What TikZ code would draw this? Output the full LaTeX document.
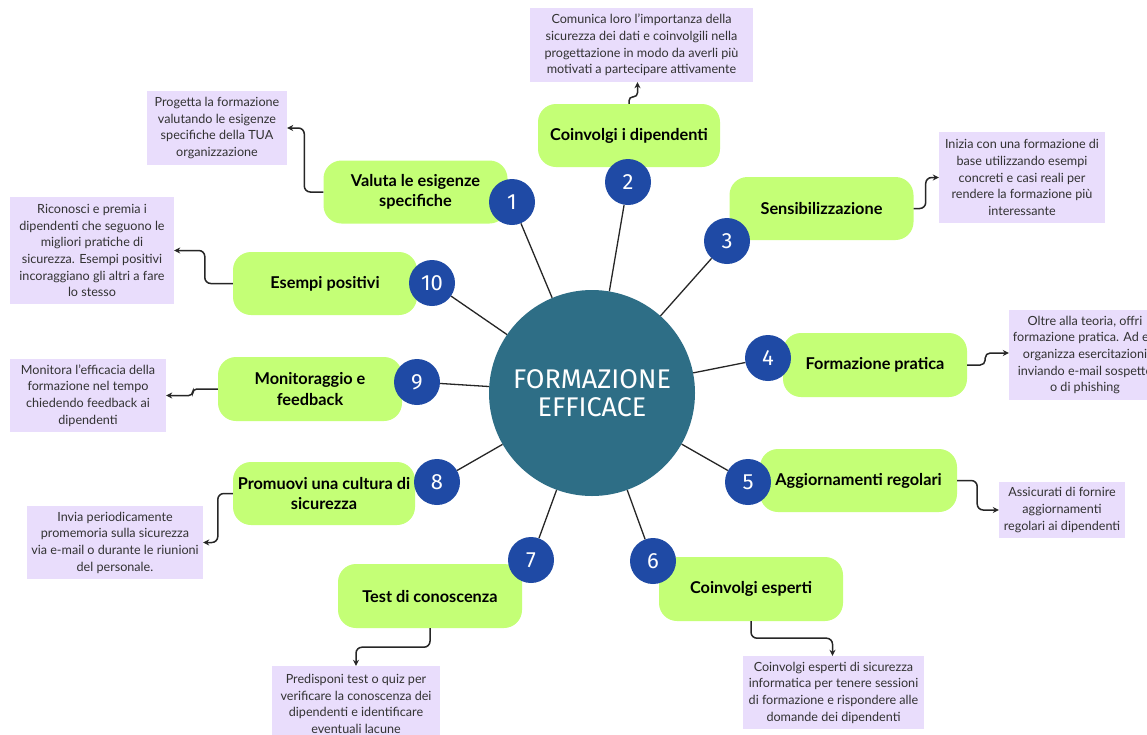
\documentclass[tikz,border=0pt]{standalone}
\usepackage{fontspec}
\setmainfont{Lato}
\newfontfamily\titlefont{Fira Sans}
\usetikzlibrary{arrows.meta,calc}
\definecolor{boxgreen}{RGB}{196,255,118}
\definecolor{notepurple}{RGB}{233,221,252}
\definecolor{numblue}{RGB}{31,74,165}
\definecolor{hubteal}{RGB}{46,110,134}
\definecolor{notetext}{RGB}{50,50,50}
\begin{document}
\begin{tikzpicture}[x=1pt,y=-1pt,
 gbox/.style={fill=boxgreen, rounded corners=18pt, minimum width=184pt, minimum height=63pt, inner sep=2pt, font=\fontsize{16.3}{20.5}\selectfont\bfseries, align=center},
 note/.style={fill=notepurple, inner sep=0pt, font=\fontsize{12.6}{16.7}\selectfont, text=notetext, align=center},
 num/.style={circle, fill=numblue, minimum size=46pt, inner sep=0pt, text=white, font=\titlefont\fontsize{22}{22}\selectfont},
 spoke/.style={draw=black!85, line width=1.3pt},
 conn/.style={draw=black!85, line width=1.5pt, rounded corners=6pt, -{Stealth[length=6pt,width=6pt]}},
]
\clip (0,0) rectangle (1147,734);
\fill[white] (0,0) rectangle (1147,734);

% hub
\node[circle, fill=hubteal, minimum size=206pt, inner sep=0pt, text=white, font=\titlefont\fontsize{27}{28}\selectfont, align=center] (hub) at (592,393) {FORMAZIONE\\EFFICACE};

% green boxes
\node[gbox] (b1) at (415.5,192) {Valuta le esigenze\\specifiche};
\node[gbox, minimum width=182pt] (b2) at (629,135.5) {Coinvolgi i dipendenti};
\node[gbox] (b3) at (821.5,208.5) {Sensibilizzazione};
\node[gbox, minimum height=64pt] (b4) at (875,365) {Formazione pratica};
\node[gbox, minimum width=197pt] (b5) at (858.5,480.5) {Aggiornamenti regolari};
\node[gbox, minimum height=64pt] (b6) at (751,589) {Coinvolgi esperti};
\node[gbox, minimum height=64pt] (b7) at (430,596) {Test di conoscenza};
\node[gbox, minimum width=182pt] (b8) at (324,493.5) {Promuovi una cultura di\\sicurezza};
\node[gbox, minimum height=64pt] (b9) at (310,389) {Monitoraggio e\\feedback};
\node[gbox] (b10) at (325,283.5) {Esempi positivi};

% number circles
\node[num] (n1) at (512,202) {1};
\node[num] (n2) at (628,182) {2};
\node[num] (n3) at (727,241) {3};
\node[num] (n4) at (768,358) {4};
\node[num] (n5) at (748,482) {5};
\node[num] (n6) at (653,561) {6};
\node[num] (n7) at (531,560) {7};
\node[num] (n8) at (437,482) {8};
\node[num] (n9) at (417,382) {9};
\node[num] (n10) at (432,283) {10};

% spokes
\foreach \i in {1,...,10} { \draw[spoke] (n\i) -- (hub); }

% notes
\node[note, minimum width=140pt, minimum height=74pt] (p1) at (217,128) {Progetta la formazione\\valutando le esigenze\\specifiche della TUA\\organizzazione};
\node[note, minimum width=223pt, minimum height=74pt] (p2) at (641.5,45) {Comunica loro l'importanza della\\sicurezza dei dati e coinvolgili nella\\progettazione in modo da averli più\\motivati a partecipare attivamente};
\node[note, minimum width=166pt, minimum height=91pt] (p3) at (1022,177.5) {Inizia con una formazione di\\base utilizzando esempi\\concreti e casi reali per\\rendere la formazione più\\interessante};
\node[note, minimum width=152pt, minimum height=90pt] (p4) at (1085,355) {Oltre alla teoria, offri\\formazione pratica. Ad es.\\organizza esercitazioni\\inviando e-mail sospette\\o di phishing};
\node[note, minimum width=126pt, minimum height=56pt] (p5) at (1062,510) {Assicurati di fornire\\aggiornamenti\\regolari ai dipendenti};
\node[note, minimum width=181pt, minimum height=73pt] (p6) at (833.5,692.5) {Coinvolgi esperti di sicurezza\\informatica per tenere sessioni\\di formazione e rispondere alle\\domande dei dipendenti};
\node[note, minimum width=168pt, minimum height=76pt] (p7) at (356,704) {Predisponi test o quiz per\\verificare la conoscenza dei\\dipendenti e identificare\\eventuali lacune};
\node[note, minimum width=176pt, minimum height=73pt] (p8) at (115,542.5) {Invia periodicamente\\promemoria sulla sicurezza\\via e-mail o durante le riunioni\\del personale.};
\node[note, minimum width=156pt, minimum height=73pt] (p9) at (88,395.5) {Monitora l'efficacia della\\formazione nel tempo\\chiedendo feedback ai\\dipendenti};
\node[note, minimum width=164pt, minimum height=107pt] (p10) at (92,250.5) {Riconosci e premia i\\dipendenti che seguono le\\migliori pratiche di\\sicurezza. Esempi positivi\\incoraggiano gli altri a fare\\lo stesso};

% connectors
\draw[conn] (b1.west) -- ++(-19,0) |- (p1.east);
\draw[conn, rounded corners=4pt] (b2.north) -- ++(0,-7) -| ($(p2.south)+(-4,0)$);
\draw[conn] (b3.east) -- ++(12,0) |- (p3.west);
\draw[conn, rounded corners=5pt] (b4.east) -- ++(18,0) |- ($(p4.west)+(0,-2)$);
\draw[conn] (b5.east) -- ++(20,0) |- (p5.west);
\draw[conn] (b6.south) -- ++(0,17) -| ($(p6.north)+(-1,0)$);
\draw[conn] (b7.south) -- ++(0,19) -| (p7.north);
\draw[conn] (b8.west) -- ++(-15,0) |- (p8.east);
\draw[conn, rounded corners=4pt] (b9.west) -- ++(-25,0) |- (p9.east);
\draw[conn] (b10.west) -- ++(-28,0) |- (p10.east);
\end{tikzpicture}
\end{document}
